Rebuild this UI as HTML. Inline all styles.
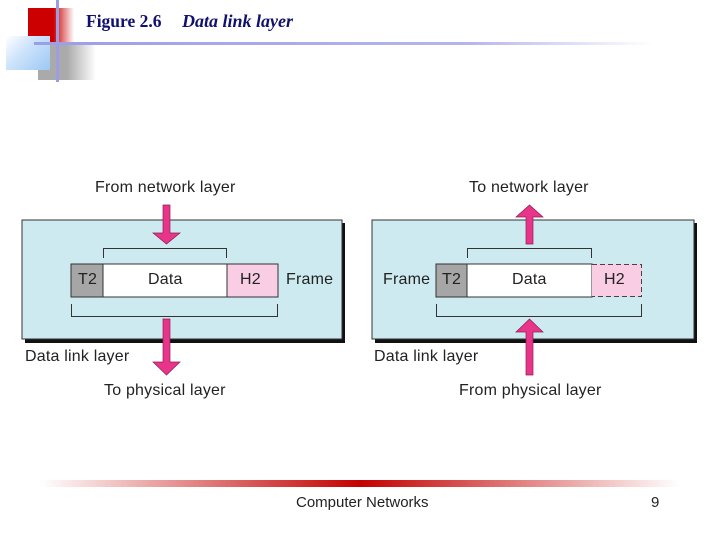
<!DOCTYPE html>
<html><head><meta charset="utf-8"><style>
body{margin:0;width:720px;height:540px;background:#fff;position:relative;overflow:hidden;font-family:"Liberation Serif",serif}
.a{position:absolute}
.t{position:absolute;font-family:"Liberation Sans",sans-serif;font-size:16px;color:#222;white-space:nowrap;letter-spacing:0.2px}
</style></head><body>
<div class="a" style="left:28px;top:8px;width:46px;height:34px;background:linear-gradient(90deg,#c00 0,#c00 55%,#fff 100%)"></div>
<div class="a" style="left:38px;top:44px;width:58px;height:36px;background:linear-gradient(90deg,#aaa 0,#aaa 50%,#fff 100%)"></div>
<div class="a" style="left:6px;top:36px;width:44px;height:34px;background:linear-gradient(135deg,#fff 0,#cfe4fb 40%,#9cc8f5 100%)"></div>
<div class="a" style="left:56px;top:0;width:3px;height:82px;background:#9d9de6"></div>
<div class="a" style="left:34px;top:42px;width:620px;height:3px;background:linear-gradient(90deg,#9d9de6,#b5b5ee 70%,#fff)"></div>
<div class="a" style="left:86px;top:11px;font-size:17.5px;font-weight:bold;color:#10106e">Figure 2.6</div>
<div class="a" style="left:182px;top:11px;font-size:18px;font-weight:bold;font-style:italic;color:#10106e">Data link layer</div>

<svg class="a" style="left:0;top:0" width="720" height="540">
<defs><linearGradient id="g" x1="0" x2="1"><stop offset="0" stop-color="#fff"/><stop offset="0.5" stop-color="#c40000"/><stop offset="1" stop-color="#fff"/></linearGradient></defs>
<rect x="40" y="480" width="640" height="7" fill="url(#g)"/>
<rect x="25" y="223" width="320" height="120" fill="#111"/>
<rect x="22" y="220" width="320" height="119" fill="#cdeaf0" stroke="#333" stroke-width="1"/>
<rect x="71" y="264" width="32" height="33" fill="#a6a6a6" stroke="#333"/>
<rect x="103" y="264" width="124" height="33" fill="#fff" stroke="#333"/>
<rect x="227" y="264" width="51" height="33" fill="#f9cde4" stroke="#333"/>
<path d="M103.5 258V248.5H226.5V258" fill="none" stroke="#333"/>
<path d="M71.5 304V316.5H277.5V304" fill="none" stroke="#333"/>
<path d="M163 205H170V233H180L166.5 244L153 233H163Z" fill="#e8358a" stroke="#8a1d55" stroke-width="0.7"/>
<path d="M163 319H170V362H180L166.5 375L153 362H163Z" fill="#e8358a" stroke="#8a1d55" stroke-width="0.7"/>
<rect x="375" y="223" width="322" height="120" fill="#111"/>
<rect x="372" y="220" width="322" height="119" fill="#cdeaf0" stroke="#333" stroke-width="1"/>
<rect x="436" y="264" width="31" height="33" fill="#a6a6a6" stroke="#333"/>
<rect x="467" y="264" width="125" height="33" fill="#fff" stroke="#333"/>
<rect x="592" y="264" width="50" height="33" fill="#f9cde4"/>
<path d="M592 264.5H641.5V296.5H592" fill="none" stroke="#444" stroke-dasharray="5,3"/>
<path d="M467.5 258V248.5H591.5V258" fill="none" stroke="#333"/>
<path d="M436.5 304V316.5H641.5V304" fill="none" stroke="#333"/>
<path d="M526 244H533V217H543L529.5 205L516 217H526Z" fill="#e8358a" stroke="#8a1d55" stroke-width="0.7"/>
<path d="M526 375H533V332H543L529.5 319L516 332H526Z" fill="#e8358a" stroke="#8a1d55" stroke-width="0.7"/>
</svg>
<div class="t" style="left:95px;top:179px">From network layer</div>
<div class="t" style="left:469px;top:179px">To network layer</div>
<div class="t" style="left:78px;top:271px">T2</div>
<div class="t" style="left:148px;top:271px">Data</div>
<div class="t" style="left:240px;top:271px">H2</div>
<div class="t" style="left:286px;top:271px">Frame</div>
<div class="t" style="left:383px;top:271px">Frame</div>
<div class="t" style="left:442px;top:271px">T2</div>
<div class="t" style="left:512px;top:271px">Data</div>
<div class="t" style="left:604px;top:271px">H2</div>
<div class="t" style="left:25px;top:348px">Data link layer</div>
<div class="t" style="left:374px;top:348px">Data link layer</div>
<div class="t" style="left:104px;top:382px">To physical layer</div>
<div class="t" style="left:459px;top:382px">From physical layer</div>
<div class="t" style="left:296px;top:494px;font-size:15px;letter-spacing:0">Computer Networks</div>
<div class="t" style="left:651px;top:494px;font-size:15px;letter-spacing:0">9</div>
</body></html>
